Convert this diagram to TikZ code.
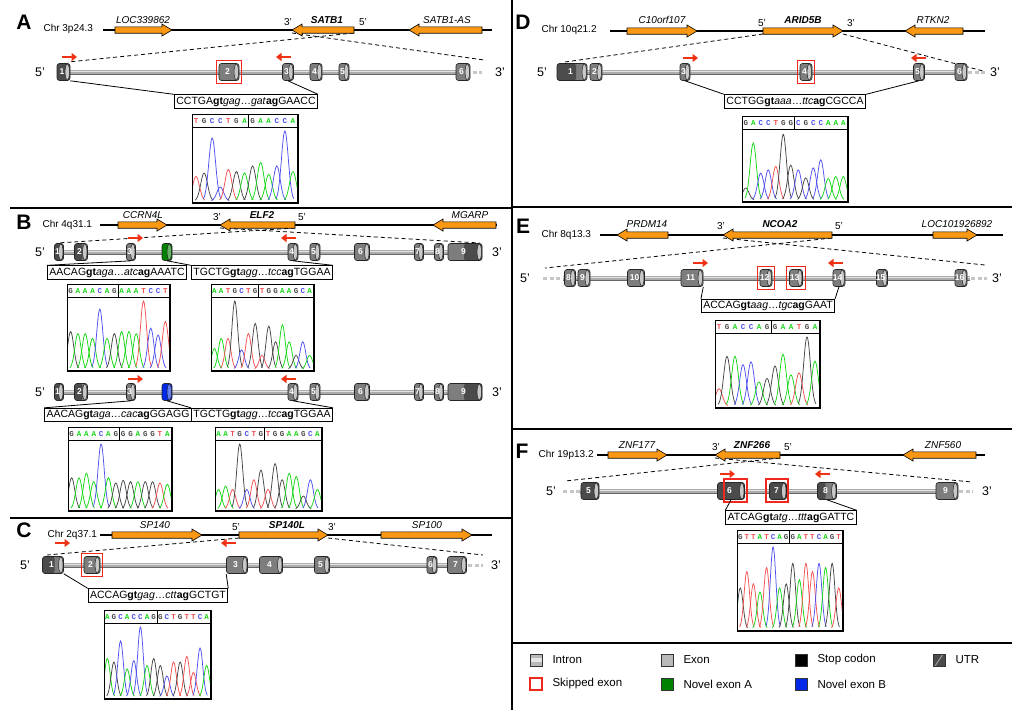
\documentclass[tikz,border=0pt]{standalone}
\usepackage{fontspec}
\setmainfont{Liberation Sans}
\newfontfamily\monof{Liberation Mono}
\usetikzlibrary{arrows.meta,fit}
\definecolor{gorange}{RGB}{250,152,20}
\definecolor{exgray}{RGB}{125,125,125}
\definecolor{exlight}{RGB}{200,200,200}
\definecolor{utrcol}{RGB}{75,75,75}
\definecolor{primred}{RGB}{240,50,20}
\definecolor{skipred}{RGB}{240,40,30}
\definecolor{baseA}{RGB}{20,215,20}
\definecolor{baseC}{RGB}{80,80,240}
\definecolor{baseG}{RGB}{70,70,70}
\definecolor{baseT}{RGB}{245,80,80}
\definecolor{novA}{RGB}{0,130,0}
\definecolor{novB}{RGB}{0,40,230}
\tikzset{
 panelline/.style={line width=1.8pt},
 chrline/.style={line width=1.4pt},
 genearrow/.style={draw=black, line width=0.6pt, fill=gorange},
 zoomdash/.style={line width=0.8pt, dash pattern=on 4pt off 3pt},
 primer/.style={primred, line width=2.6pt, -{Triangle[length=5.5pt,width=8pt]}},
 seqbox/.style={draw, line width=0.8pt, fill=white, inner sep=2pt, font=\fontsize{10.5}{12}\selectfont},
 seqlink/.style={line width=0.8pt},
 skipbox/.style={draw=skipred, line width=1.1pt, inner sep=2.5pt},
 chrlabel/.style={font=\fontsize{10}{11}\selectfont, anchor=west},
 genelabel/.style={font=\fontsize{10}{11}\selectfont\itshape},
 focuslabel/.style={font=\fontsize{10}{11}\selectfont\bfseries\itshape},
 endlabel/.style={font=\fontsize{10}{11}\selectfont},
 txlabel/.style={font=\fontsize{12.5}{13}\selectfont},
 panelletter/.style={font=\fontsize{21}{24}\selectfont\bfseries},
 exnum/.style={text=white, font=\fontsize{8.5}{9}\selectfont\bfseries, inner sep=0pt},
 exonbody/.style={draw=black!85, line width=0.6pt, fill=exgray, rounded corners=2.5pt, minimum height=17pt, inner sep=0pt},
 utrleft/.style={path picture={\fill[utrcol] ([xshift=-1pt]path picture bounding box.south west) rectangle ([xshift=#1]path picture bounding box.north west);}},
 utrright/.style={path picture={\fill[utrcol] ([xshift=1pt]path picture bounding box.south east) rectangle ([xshift=-#1]path picture bounding box.north east);}},
 legicon/.style={draw=black!80, line width=0.8pt, minimum size=12pt, inner sep=0pt},
 legtext/.style={font=\fontsize{11.5}{13}\selectfont, anchor=west},
}
\newcommand\exon[6][]{%
 \node[exonbody, minimum width=#5pt, #1] (#2) at (#3,#4) {};
 \draw[draw=black!85, line width=0.5pt, fill=exlight] ([xshift=-3pt]#2.east) ellipse (2.2pt and 8pt);
 \node[exnum] (#2-n) at ([xshift=-1.5pt]#2.center) {#6};
}
\newcommand\novexon[5]{%
 \node[exonbody, minimum width=#4pt, fill=#5] (#1) at (#2,#3) {};
 \draw[draw=black!85, line width=0.5pt, fill=#5!60] ([xshift=-3pt]#1.east) ellipse (2.2pt and 8pt);
}
\newcommand\tube[3]{%
 \draw[line width=5pt, gray!80!black] (#2,#1) -- (#3,#1);
 \draw[line width=3.6pt, gray!65] (#2,#1) -- (#3,#1);
 \draw[line width=1.3pt, gray!22] (#2,#1-0.7) -- (#3,#1-0.7);
}
\newcommand\tubeend[3]{\draw[line width=3pt, gray!45, dash pattern=on 4pt off 2.5pt] (#2,#1) -- (#3,#1);}
\newcommand\garR[4]{%
 \draw[genearrow] (#2,#4-3.2) -- (#3-10,#4-3.2) -- (#3-10,#4-6) -- (#3,#4) -- (#3-10,#4+6) -- (#3-10,#4+3.2) -- (#2,#4+3.2) -- cycle;
 \coordinate (#1-bl) at (#2,#4+3); \coordinate (#1-br) at (#3,#4+3);}
\newcommand\garL[4]{%
 \draw[genearrow] (#3,#4-3.2) -- (#2+10,#4-3.2) -- (#2+10,#4-6) -- (#2,#4) -- (#2+10,#4+6) -- (#2+10,#4+3.2) -- (#3,#4+3.2) -- cycle;
 \coordinate (#1-bl) at (#2,#4+3); \coordinate (#1-br) at (#3,#4+3);}
\newcommand\sq[4]{#1\textbf{gt}\textit{#2}\ldots\textit{#3}\textbf{ag}#4}
\newcommand\chrom[8]{%
 \pgfmathsetmacro\csp{#4/#6}
 \node[draw, line width=1pt, minimum width=#4pt, minimum height=#5pt, anchor=north west, inner sep=0pt, fill=white] (#1) at (#2,#3) {};
 \begin{scope}
 \clip (#2,#3) rectangle (#2+#4,#3+#5);
 \foreach \b/\hh [count=\i] in {#8} {
   \pgfmathsetmacro\xc{#2+(\i-0.5)*\csp}
   \draw[base\b, line width=0.75pt] plot[domain=-1.1:1.1, samples=21, smooth] ({\xc+\x*\csp*1.0},{#3+#5-1-\hh*(#5-18)*exp(-2.8*\x*\x)});
   \node[text=base\b, font=\monof\bfseries\fontsize{7.5}{8}\selectfont, inner sep=0pt] (#1-\i) at (\xc,#3+6.8) {\b};
 }
 \end{scope}
 \draw[line width=0.9pt] (#2,#3+13.5) -- (#2+#4,#3+13.5);
 \draw[line width=0.9pt] (#2+#7*\csp,#3) -- (#2+#7*\csp,#3+13.5);
 \draw[line width=1pt] (#1.north west) rectangle (#1.south east);
}
\begin{document}
\begin{tikzpicture}[x=1pt,y=-1pt]
\useasboundingbox (0,0) rectangle (1024,710);
\fill[white] (0,0) rectangle (1024,710);

% ================= Panel A =================
\node[panelletter] (LA) at (24,22) {A};
\node[chrlabel] (chrA) at (40,29) {Chr 3p24.3};
\coordinate (zAl) at (68,62); \coordinate (zAr) at (484,60);
\coordinate (gAl) at (354,33); \coordinate (gAr) at (292,33);
\draw[zoomdash] (gAl) -- (zAl);
\draw[zoomdash] (gAr) -- (zAr);
\draw[chrline] (103,30) -- (492,30);
\garR{locA}{115}{172}{30}
\garL{satb}{292}{354}{30}
\garL{satbas}{409}{482}{30}
\node[genelabel] (gA1) at (143,20) {LOC339862};
\node[endlabel] (pA3) at (288,22) {3’};
\node[focuslabel] (gA2) at (327,20) {SATB1};
\node[endlabel] (pA5) at (363,22) {5’};
\node[genelabel] (gA3) at (447,20) {SATB1-AS};
\node[txlabel] (tA5) at (40,72) {5’};
\node[txlabel] (tA3) at (500,72) {3’};
\tube{72}{63}{463}
\tubeend{72}{466}{482}
\exon[fill=utrcol]{a1}{63.5}{72}{13}{1}
\exon{a2}{229}{72}{20}{2}
\exon{a3}{288}{72}{11}{3}
\exon{a4}{316}{72}{12}{4}
\exon{a5}{344}{72}{10}{5}
\exon{a6}{463}{72}{14}{6}
\node[skipbox, fit=(a2)] (a2s) {};
\draw[primer] (62,57) -- (77,57);
\draw[primer] (291,57) -- (276,57);
\node[seqbox] (sA) at (246,101.5) {\sq{CCTGA}{gag}{gat}{GAACC}};
\draw[seqlink] (a1.south east) -- (sA.north west);
\draw[seqlink] (a3.south) -- (sA.north east);
\chrom{cA}{192}{114}{105}{88}{13}{7}{T/.35,G/.4,C/.9,C/.2,T/.45,G/.42,A/.4,G/.5,A/.55,A/.38,C/.5,C/1,A/.42}

% ================= Panel B =================
\node[panelletter] (LB) at (24,222) {B};
\node[chrlabel] (chrB) at (39,225) {Chr 4q31.1};
\coordinate (zBl) at (57,243); \coordinate (zBr) at (480,243);
\coordinate (gBl) at (295,228); \coordinate (gBr) at (220,228);
\draw[zoomdash] (gBl) -- (zBl);
\draw[zoomdash] (gBr) -- (zBr);
\draw[chrline] (100,225) -- (497,225);
\garR{ccrn}{118}{167}{225}
\garL{elf}{220}{295}{225}
\garL{mgarp}{433}{496}{225}
\node[genelabel] (gB1) at (143,215) {CCRN4L};
\node[endlabel] (pB3) at (217,217) {3’};
\node[focuslabel] (gB2) at (262,215) {ELF2};
\node[endlabel] (pB5) at (302,217) {5’};
\node[genelabel] (gB3) at (470,215) {MGARP};
% transcript 1
\node[txlabel] (tB5) at (40,252) {5’};
\node[txlabel] (tB3) at (497,252) {3’};
\tube{252}{59}{480}
\exon[fill=utrcol]{b1}{59}{252}{9}{1}
\exon[utrleft=8]{b2}{81}{252}{13}{2}
\exon{b3}{131}{252}{9}{3}
\novexon{bn}{167}{252}{10}{novA}
\exon{b4}{293}{252}{10}{4}
\exon{b5}{315}{252}{10}{5}
\exon{b6}{362}{252}{15}{6}
\exon{b7}{419}{252}{9}{7}
\exon{b8}{439}{252}{9}{8}
\exon[utrright=18]{b9}{465}{252}{34}{9}
\draw[primer] (128,238) -- (143,238);
\draw[primer] (296,238) -- (281,238);
\node[seqbox] (sB1) at (117,272.5) {\sq{AACAG}{aga}{atc}{AAATC}};
\node[seqbox] (sB2) at (262,272.5) {\sq{TGCTG}{agg}{tcc}{TGGAA}};
\draw[seqlink] (b3.south) -- (sB1.north west);
\draw[seqlink] (bn.south) -- (sB2.north west);
\draw[seqlink] (b4.south) -- (sB2.north east);
\chrom{cB1}{67}{284}{102}{86}{14}{7}{G/.55,A/.52,A/.52,A/.45,C/.88,A/.45,G/.52,A/.55,A/.55,A/.52,T/1,C/.6,C/.5,T/.7}
\chrom{cB2}{211}{284}{102}{86}{15}{7}{A/.3,A/.45,T/.45,G/1,C/.28,T/.52,G/.67,T/.2,G/.63,G/.4,A/.65,A/.4,G/.2,C/.4,A/.2}
% transcript 2
\node[txlabel] (tB5b) at (40,392) {5’};
\node[txlabel] (tB3b) at (497,392) {3’};
\tube{392}{59}{480}
\exon[fill=utrcol]{bb1}{59}{392}{9}{1}
\exon[utrleft=8]{bb2}{81}{392}{13}{2}
\exon{bb3}{131}{392}{9}{3}
\novexon{bbn}{167}{392}{10}{novB}
\exon{bb4}{293}{392}{10}{4}
\exon{bb5}{315}{392}{10}{5}
\exon{bb6}{362}{392}{15}{6}
\exon{bb7}{419}{392}{9}{7}
\exon{bb8}{439}{392}{9}{8}
\exon[utrright=18]{bb9}{465}{392}{34}{9}
\draw[primer] (128,379) -- (143,379);
\draw[primer] (296,379) -- (281,379);
\node[seqbox] (sB3) at (118,415) {\sq{AACAG}{aga}{cac}{GGAGG}};
\node[seqbox] (sB4) at (262,415) {\sq{TGCTG}{agg}{tcc}{TGGAA}};
\draw[seqlink] (bb3.south) -- (sB3.north west);
\draw[seqlink] (bbn.south) -- (sB4.north west);
\draw[seqlink] (bb4.south) -- (sB4.north east);
\chrom{cB3}{68}{427}{103}{83}{14}{7}{G/.48,A/.48,A/.55,A/.42,C/1,A/.48,G/.4,G/.44,G/.42,A/.42,G/.42,G/.42,T/.4,A/.38}
\chrom{cB4}{215}{427}{106}{83}{15}{7}{A/.3,A/.35,T/.3,G/1,C/.3,T/.45,G/.6,T/.3,G/.7,G/.45,A/.55,A/.5,G/.2,C/.45,A/.3}

% ================= Panel C =================
\node[panelletter] (LC) at (24,530) {C};
\node[chrlabel] (chrC) at (44,535) {Chr 2q37.1};
\coordinate (zCl) at (47,555); \coordinate (zCr) at (483,555);
\coordinate (gCl) at (239,538); \coordinate (gCr) at (328,538);
\draw[zoomdash] (gCl) -- (zCl);
\draw[zoomdash] (gCr) -- (zCr);
\draw[chrline] (100,535) -- (492,535);
\garR{sp140}{112}{202}{535}
\garR{sp140l}{239}{328}{535}
\garR{sp100}{381}{472}{535}
\node[genelabel] (gC1) at (155,525) {SP140};
\node[endlabel] (pC5) at (236,527) {5’};
\node[focuslabel] (gC2) at (287,525) {SP140L};
\node[endlabel] (pC3) at (332,527) {3’};
\node[genelabel] (gC3) at (427,525) {SP100};
\node[txlabel] (tC5) at (25,565) {5’};
\node[txlabel] (tC3) at (496,565) {3’};
\tube{565}{45}{467}
\tubeend{565}{468}{483}
\exon[utrleft=12]{c1}{53}{565}{21}{1}
\exon{c2}{92}{565}{16}{2}
\exon{c3}{237}{565}{21}{3}
\exon{c4}{271}{565}{23}{4}
\exon{c5}{322}{565}{15}{5}
\exon{c6}{432}{565}{10}{6}
\exon{c7}{457}{565}{19}{7}
\node[skipbox, fit=(c2)] (c2s) {};
\draw[primer] (55,543) -- (70,543);
\draw[primer] (236,543) -- (221,543);
\node[seqbox] (sC) at (158,595.5) {\sq{ACCAG}{gag}{ctt}{GCTGT}};
\draw[seqlink] (c1.south east) -- (sC.north west);
\draw[seqlink] (c3.south west) -- (sC.north east);
\chrom{cC}{104}{610}{106}{88}{16}{8}{A/.55,G/.5,C/.8,A/.4,C/.52,C/1,A/.45,G/.55,G/.45,C/.3,T/.5,G/.5,T/.58,T/.35,C/.7,A/.45}

% ================= Panel D =================
\node[panelletter] (LD) at (523,22) {D};
\node[chrlabel] (chrD) at (538,30) {Chr 10q21.2};
\coordinate (zDl) at (565,62); \coordinate (zDr) at (983,71);
\coordinate (gDl) at (763,34); \coordinate (gDr) at (843,34);
\draw[zoomdash] (gDl) -- (zDl);
\draw[zoomdash] (gDr) -- (zDr);
\draw[chrline] (610,31) -- (985,31);
\garR{c10}{627}{697}{31}
\garR{arid}{763}{843}{31}
\garL{rtkn}{905}{963}{31}
\node[genelabel] (gD1) at (662,20) {C10orf107};
\node[endlabel] (pD5) at (762,23) {5’};
\node[focuslabel] (gD2) at (803,20) {ARID5B};
\node[endlabel] (pD3) at (851,23) {3’};
\node[genelabel] (gD3) at (933,20) {RTKN2};
\node[txlabel] (tD5) at (542,72) {5’};
\node[txlabel] (tD3) at (995,72) {3’};
\tube{72}{570}{967}
\tubeend{72}{968}{985}
\exon[utrleft=19]{d1}{572}{72}{30}{1}
\exon{d2}{596}{72}{12}{2}
\exon{d3}{685}{72}{10}{3}
\exon{d4}{806}{72}{12}{4}
\exon{d5}{919}{72}{11}{5}
\exon{d6}{961}{72}{12}{6}
\node[skipbox, fit=(d4)] (d4s) {};
\draw[primer] (683,58) -- (698,58);
\draw[primer] (926,58) -- (911,58);
\node[seqbox] (sD) at (795,101.5) {\sq{CCTGG}{aaa}{ttc}{CGCCA}};
\draw[seqlink] (d3.south) -- (sD.north west);
\draw[seqlink] (d5.south) -- (sD.north east);
\chrom{cD}{742}{116}{105}{85}{14}{7}{G/.18,A/.85,C/.4,C/.45,T/.5,G/.98,G/.52,C/.45,G/.33,C/.48,C/.6,A/.32,A/.35,A/.35}

% ================= Panel E =================
\node[panelletter] (LE) at (523,226) {E};
\node[chrlabel] (chrE) at (538,235) {Chr 8q13.3};
\coordinate (zEl) at (545,268); \coordinate (zEr) at (985,265);
\coordinate (gEl) at (832,238); \coordinate (gEr) at (723,238);
\draw[zoomdash] (gEl) -- (zEl);
\draw[zoomdash] (gEr) -- (zEr);
\draw[chrline] (600,235) -- (1003,235);
\garL{prdm}{617}{668}{235}
\garL{ncoa}{723}{832}{235}
\garR{loc2}{933}{977}{235}
\node[genelabel] (gE1) at (647,224) {PRDM14};
\node[endlabel] (pE3) at (721,226) {3’};
\node[focuslabel] (gE2) at (780,224) {NCOA2};
\node[endlabel] (pE5) at (839,226) {5’};
\node[genelabel] (gE3) at (957,224) {LOC101926892};
\node[txlabel] (tE5) at (525,278) {5’};
\node[txlabel] (tE3) at (997,278) {3’};
\tubeend{278}{543}{563}
\tube{278}{563}{970}
\tubeend{278}{971}{987}
\exon{e8}{570}{278}{11}{8}
\exon{e9}{584}{278}{12}{9}
\exon{e10}{636}{278}{17}{10}
\exon{e11}{692}{278}{22}{11}
\exon{e12}{766}{278}{12}{12}
\exon{e13}{796}{278}{13}{13}
\exon{e14}{839}{278}{12}{14}
\exon{e15}{882}{278}{11}{15}
\exon{e16}{961}{278}{12}{16}
\node[skipbox, fit=(e12)] (e12s) {};
\node[skipbox, fit=(e13)] (e13s) {};
\draw[primer] (693,263) -- (708,263);
\draw[primer] (843,263) -- (828,263);
\node[seqbox] (sE) at (768,306) {\sq{ACCAG}{aag}{tgc}{GAAT}};
\draw[seqlink] (e11.south east) -- (sE.north west);
\draw[seqlink] (e14.south) -- (sE.north east);
\chrom{cE}{715}{320}{104}{87}{13}{7}{T/.25,G/.72,A/.72,C/.6,C/.64,A/.35,G/.4,G/.58,A/.75,A/.45,T/.48,G/1,A/.65}

% ================= Panel F =================
\node[panelletter] (LF) at (522,451) {F};
\node[chrlabel] (chrF) at (535,455) {Chr 19p13.2};
\coordinate (zFl) at (565,481); \coordinate (zFr) at (972,482);
\coordinate (gFl) at (780,458); \coordinate (gFr) at (715,458);
\draw[zoomdash] (gFl) -- (zFl);
\draw[zoomdash] (gFr) -- (zFr);
\draw[chrline] (597,455) -- (985,455);
\garR{z177}{608}{667}{455}
\garL{z266}{715}{780}{455}
\garL{z560}{903}{976}{455}
\node[genelabel] (gF1) at (637,445) {ZNF177};
\node[endlabel] (pF3) at (716,447) {3’};
\node[focuslabel] (gF2) at (752,445) {ZNF266};
\node[endlabel] (pF5) at (788,447) {5’};
\node[genelabel] (gF3) at (943,445) {ZNF560};
\node[txlabel] (tF5) at (551,491) {5’};
\node[txlabel] (tF3) at (987,491) {3’};
\tubeend{491}{563}{580}
\tube{491}{580}{958}
\tubeend{491}{959}{973}
\exon[fill=utrcol]{f5}{590}{491}{18}{5}
\exon[fill=utrcol]{f6}{731}{491}{27}{6}
\exon[fill=utrcol]{f7}{778}{491}{17}{7}
\exon[utrleft=8]{f8}{827}{491}{19}{8}
\exon{f9}{947}{491}{22}{9}
\node[skipbox, minimum width=23pt, minimum height=23pt, inner sep=0pt] (f6s) at (735.5,490.5) {};
\node[skipbox, minimum width=22pt, minimum height=23pt, inner sep=0pt] (f7s) at (777,490.5) {};
\draw[primer] (720,474) -- (735,474);
\draw[primer] (830,474) -- (815,474);
\node[seqbox] (sF) at (791,517.5) {\sq{ATCAG}{atg}{ttt}{GATTC}};
\draw[seqlink] (f6.south) -- (sF.north west);
\draw[seqlink] (f8.south) -- (sF.north east);
\chrom{cF}{737}{530}{105}{100}{16}{8}{G/.5,T/.7,T/.55,A/.45,T/.75,C/1,A/.5,G/.55,G/.8,A/.6,T/.8,T/.7,C/.8,A/.75,G/.8,T/.5}

% ================= Legend =================
\node[legicon, fill=gray!55, path picture={\fill[gray!20] ([yshift=-1.6pt]path picture bounding box.west) rectangle ([yshift=1.6pt]path picture bounding box.east);}] (lg1) at (536,660) {};
\node[legtext] (lt1) at (549,660) {Intron};
\node[legicon, fill=gray!55] (lg2) at (667,660) {};
\node[legtext] (lt2) at (680,660) {Exon};
\node[legicon, fill=black] (lg3) at (801,660) {};
\node[legtext] (lt3) at (814,660) {Stop codon};
\node[legicon, fill=utrcol, path picture={\draw[gray!70, line width=0.8pt] ([xshift=2pt]path picture bounding box.south west) -- ([xshift=-2pt]path picture bounding box.north east);}] (lg4) at (939,660) {};
\node[legtext] (lt4) at (952,660) {UTR};
\node[legicon, draw=skipred, line width=1.1pt, fill=white] (lg5) at (536,684) {};
\node[legtext] (lt5) at (549,684) {Skipped exon};
\node[legicon, fill=novA] (lg6) at (667,684) {};
\node[legtext] (lt6) at (680,684) {Novel exon A};
\node[legicon, fill=novB] (lg7) at (801,684) {};
\node[legtext] (lt7) at (814,684) {Novel exon B};

% ================= Dividers =================
\draw[panelline] (512,0) -- (512,710);
\draw[panelline] (10,208) -- (512,208);
\draw[panelline] (10,518) -- (512,518);
\draw[panelline] (512,207) -- (1012,207);
\draw[panelline] (512,429) -- (1012,429);
\draw[panelline] (512,643) -- (1012,643);
\end{tikzpicture}
\end{document}
